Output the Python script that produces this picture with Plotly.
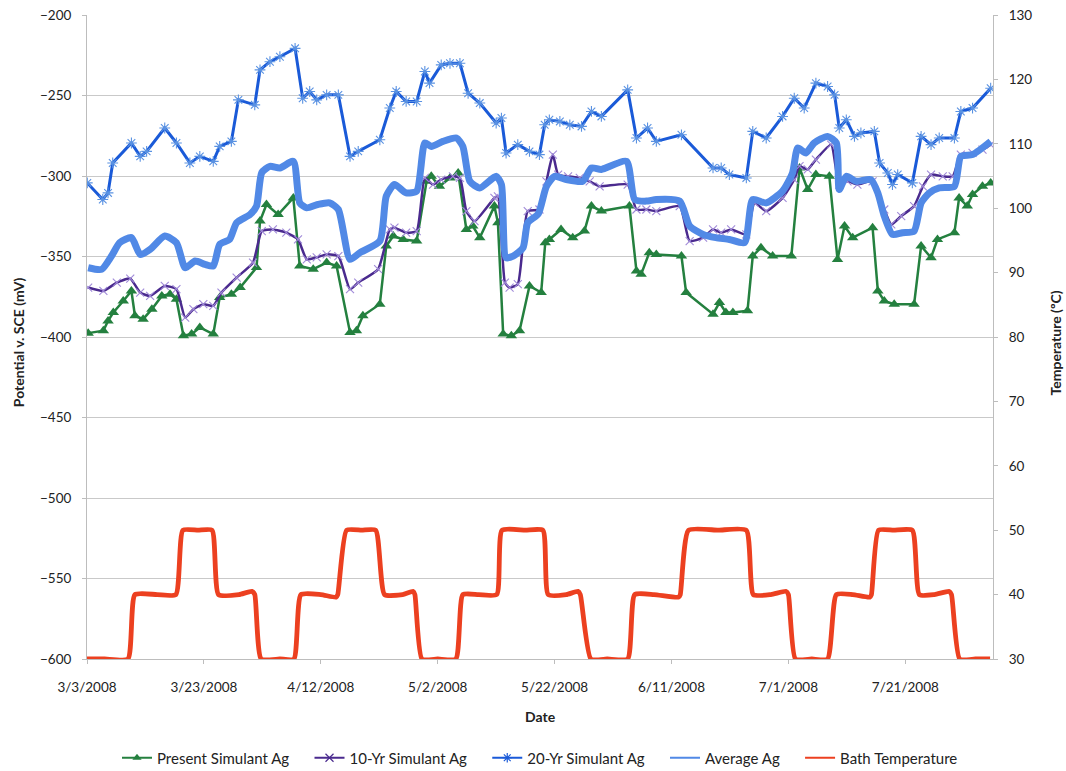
import plotly.graph_objects as go
import pandas as pd

BASE = pd.Timestamp("2008-03-03")

# ---- data (day offsets from 3/3/2008, values) ----
present_days = [0.2, 2.8, 3.6, 4.5, 6.2, 7.6, 8.2, 9.6, 11.1, 12.8, 14.2, 15.3, 16.5, 17.9, 19.3, 21.6,
                22.7, 24.7, 26.2, 29.0, 29.6, 30.7, 32.7, 35.3, 36.4, 38.7, 41.0, 42.7, 45.0, 46.1, 47.2,
                50.1, 51.2, 52.4, 54.1, 56.4, 58.1, 58.9, 60.3, 62.1, 63.5, 64.9, 66.0, 67.2, 69.7, 70.3,
                71.2, 72.6, 74.0, 75.7, 77.7, 78.4, 79.1, 81.1, 83.1, 85.1, 86.3, 88.0, 92.8, 94.0, 94.8,
                96.2, 97.4, 101.7, 102.5, 107.1, 108.2, 109.3, 110.5, 113.0, 113.9, 115.3, 117.3, 120.5,
                121.9, 123.3, 124.7, 127.0, 128.4, 129.6, 131.0, 134.4, 135.3, 136.4, 138.1, 141.5, 142.7,
                144.4, 145.5, 148.4, 149.2, 150.6, 151.5, 153.2, 154.6]
present_mv = [-397.6, -396.1, -390, -384.8, -377.6, -371.4, -386.8, -388.9, -382.7, -374.5, -373.4, -376.5,
              -399.2, -398.2, -394.1, -398.2, -375.5, -373.4, -369.3, -356.9, -328, -317.7, -323.9, -313.6,
              -355.9, -357.9, -353.8, -355.9, -397.2, -396.1, -386.8, -379.6, -343.5, -337.3, -339.4, -340.4,
              -303.3, -300.2, -306.4, -301.2, -298.1, -333.2, -331.1, -338.3, -318.7, -329, -398.2, -399.2,
              -396.1, -368.3, -372.4, -341.4, -339.4, -333.2, -338.3, -334.2, -318.7, -321.8, -318.7, -359,
              -361.1, -347.6, -348.7, -349.7, -372.4, -385.8, -378.6, -384.8, -384.8, -383.7, -349.7, -344.5,
              -349.7, -349.7, -295, -308.4, -299.1, -300.2, -351.8, -331.1, -338.3, -332.1, -371.4, -377.6,
              -379.6, -379.6, -343.5, -350.7, -339.4, -335.2, -313.6, -318.7, -311.5, -306.4, -304.3]

yr10_days = [0.2, 2.8, 5.1, 7.4, 9.1, 10.8, 13.3, 15.3, 16.8, 18.2, 19.9, 21.6, 23.0, 25.6, 28.4, 29.9,
             31.8, 34.1, 36.1, 37.6, 39.3, 41.0, 43.0, 45.0, 46.4, 49.8, 51.8, 52.6, 54.6, 56.4, 57.8,
             59.2, 60.6, 62.6, 63.8, 64.9, 66.3, 69.7, 70.3, 71.5, 72.3, 73.7, 75.4, 77.4, 78.6, 79.7,
             80.6, 82.3, 84.3, 86.0, 87.7, 92.5, 94.0, 95.7, 97.4, 101.4, 103.1, 105.4, 107.1, 108.5,
             110.2, 112.8, 114.2, 116.2, 119.0, 121.0, 121.9, 123.3, 124.7, 127.3, 128.7, 130.1, 131.8,
             134.4, 136.4, 137.6, 139.3, 141.5, 143.0, 144.4, 146.4, 148.1, 149.5, 151.5, 153.2, 154.6]
yr10_mv = [-369.3, -371.4, -366.2, -363.7, -372.4, -374.5, -368.3, -370.3, -387.9, -382.7, -379.6, -380.6,
           -372.4, -363.1, -353.8, -334.2, -333.2, -335.2, -339.4, -351.8, -350.5, -348.7, -349.7, -370.3,
           -366.2, -357.9, -333.2, -332.1, -335.2, -334.2, -301.2, -305.3, -302.2, -300.2, -301.2, -321.8,
           -328, -313.6, -312.6, -366.2, -369.3, -367.2, -321.8, -320.8, -303.3, -286.7, -299.1, -300.2,
           -301.2, -303.3, -306.4, -305.3, -320.8, -320.8, -321.8, -318.7, -340.4, -338.3, -333.2, -335.2,
           -333.2, -336.3, -316.7, -321.8, -313.6, -302.2, -293.9, -295.9, -289.8, -280.5, -305.3, -303.3,
           -305.3, -303.3, -320.8, -330.1, -324.9, -318.7, -306.4, -299.1, -300.2, -300.2, -286.7, -285.7,
           -283.6, -280.5]

yr20_days = [0.05, 2.7, 3.6, 4.4, 7.6, 9.1, 10.2, 13.3, 15.3, 17.6, 19.3, 21.6, 22.7, 24.7, 25.9, 28.7,
             29.6, 31.3, 33.0, 35.6, 36.9, 38.1, 39.3, 41.0, 43.0, 45.0, 46.4, 50.1, 51.8, 52.9, 54.6,
             56.4, 57.8, 58.6, 60.6, 62.1, 63.8, 65.2, 67.2, 70.0, 70.9, 71.7, 73.7, 75.7, 77.4, 78.3,
             79.1, 80.9, 82.6, 84.6, 86.3, 88.0, 92.5, 94.0, 95.9, 97.4, 101.7, 107.1, 108.5, 109.9,
             112.8, 113.9, 116.2, 119.0, 121.0, 122.7, 124.7, 126.7, 127.9, 128.7, 129.9, 131.3, 132.4,
             134.7, 135.6, 137.0, 137.8, 138.7, 141.2, 142.7, 144.4, 145.8, 148.4, 149.5, 151.5, 154.6]
yr20_mv = [-304.3, -314.6, -310.5, -291.9, -279.5, -287.8, -284.7, -270.2, -279.5, -291.9, -287.8, -290.9,
           -281.6, -278.5, -252.7, -255.8, -234.1, -229, -225.9, -220.7, -251.7, -247.5, -252.7, -249.6,
           -249.6, -287.8, -284.7, -277.5, -257.8, -247.5, -253.7, -253.7, -235.1, -242.3, -231, -230,
           -230, -248.6, -254.7, -267.1, -264, -285.7, -280.5, -284.7, -286.7, -268.2, -265.1, -266.1,
           -268.2, -269.2, -259.9, -263, -246.5, -276.4, -270.2, -278.5, -274.4, -295, -295, -299.1,
           -301.2, -272.3, -276.4, -263, -251.7, -257.8, -242.3, -244.4, -249.6, -270.2, -265.1, -275.4,
           -273.3, -272.3, -291.9, -298.1, -305.3, -299.1, -304.3, -275.4, -280.5, -276.4, -276.4, -259.9,
           -257.8, -245.5]

avg_days = [0.2, 2.5, 4.2, 5.6, 7.6, 9.1, 10.8, 13.3, 15.3, 16.8, 18.5, 20.2, 21.6, 22.7, 24.4, 25.6,
            27.9, 29.0, 29.9, 31.3, 33.0, 35.3, 36.4, 37.6, 39.5, 41.5, 43.0, 45.0, 46.7, 50.1, 51.2,
            52.6, 54.6, 56.4, 57.8, 58.9, 60.9, 63.2, 64.3, 65.5, 67.2, 70.0, 70.9, 71.7, 72.9, 74.6,
            75.4, 77.2, 78.6, 80.0, 82.0, 84.8, 86.3, 88.0, 92.3, 93.7, 95.7, 97.4, 101.4, 103.1, 105.4,
            107.6, 109.9, 112.5, 113.9, 116.2, 119.0, 120.7, 121.6, 123.0, 124.4, 126.7, 128.2, 128.7,
            129.9, 131.6, 134.1, 135.3, 136.4, 137.8, 139.5, 141.5, 142.7, 144.1, 145.8, 148.4, 149.5,
            151.5, 154.6]
avg_mv = [-357, -358, -349.7, -341.4, -338.3, -348.7, -345.6, -337.3, -341.4, -357, -352.8, -354.9, -355.9,
          -342.5, -339.4, -329, -323.9, -318.7, -297.9, -294, -295, -290.9, -316.7, -319.8, -317.7, -316.7,
          -320.8, -351.8, -347.6, -340.4, -312.5, -305.3, -310.5, -309.4, -279.5, -281.6, -278.5, -276.4,
          -281.6, -303.3, -307.4, -300.2, -305.3, -350.7, -349.7, -344.5, -329, -323.5, -306.4, -300.2,
          -302.2, -303.3, -295, -295.9, -290.9, -314.6, -315.6, -314.6, -315.6, -331.1, -336.3, -338.3,
          -339.4, -341.4, -314.6, -316.7, -309.4, -298.1, -282.6, -285.7, -279.5, -275.4, -279.5, -308.4,
          -300.2, -303.3, -302.2, -310.5, -324.9, -336.3, -335.2, -334.2, -316.7, -310.5, -307.4, -306.4,
          -287.8, -286.7, -278.5]

bath_days = [0, 3, 7.0, 8.2, 12, 15.2, 16.4, 19, 21.4, 22.5, 26, 28.2, 28.7, 29.8, 33, 35.4, 36.6, 40,
             42.6, 42.9, 44.4, 47, 49.4, 50.9, 54, 55.8, 56.1, 57.3, 60, 63.1, 64.3, 67, 70.1, 71.0, 75,
             78.0, 78.9, 82, 84.0, 84.4, 86.2, 89, 92.5, 93.7, 97, 101.2, 101.5, 102.9, 108, 112.8, 114.0,
             117, 119.6, 120.0, 121.2, 124, 126.7, 128.2, 131, 133.9, 134.2, 135.4, 138, 141.2, 142.4,
             145, 147.5, 147.9, 149.3, 152, 154.5]
bath_c = [30, 30, 30, 40, 40, 40, 50, 50, 50, 40, 40, 40.5, 40, 30, 30, 30, 40, 40, 39.6, 40, 50, 50, 50,
          40, 40, 40.5, 40, 30, 30, 30, 40, 40, 40, 50, 50, 50, 40, 40, 40.5, 40, 30, 30, 30, 40, 40,
          39.6, 40, 50, 50, 50, 40, 40, 40.5, 40, 30, 30, 30, 40, 40, 39.6, 40, 50, 50, 50, 40, 40, 40.5,
          40, 30, 30, 30]

series_names = ["Present Simulant Ag", "10-Yr Simulant Ag", "20-Yr Simulant Ag", "Average Ag", "Bath Temperature"]
GREEN, PURPLE, BLUE, AVG, RED = "#24803f", "#4a2a8e", "#1a5ad8", "#5189e6", "#ec4020"


def dates(days):
    return [BASE + pd.Timedelta(days=d) for d in days]


FONT = "Lato, 'Open Sans', sans-serif"
NB = "\u00a0" * 4  # spacing after legend entries

fig = go.Figure()

fig.add_trace(go.Scatter(
    x=dates(present_days), y=present_mv, name=series_names[0], mode="lines+markers", showlegend=False,
    line=dict(color=GREEN, width=2.5),
    marker=dict(symbol="triangle-up", size=10, color=GREEN)))

fig.add_trace(go.Scatter(
    x=dates(yr10_days), y=yr10_mv, name=series_names[1], mode="lines+markers", showlegend=False,
    line=dict(color=PURPLE, width=2.5, shape="spline", smoothing=0.5),
    marker=dict(symbol="x-thin-open", size=8, color="#a08ad8", line=dict(width=1.1, color="#a08ad8"))))

fig.add_trace(go.Scatter(
    x=dates(yr20_days), y=yr20_mv, name=series_names[2], mode="lines+markers", showlegend=False,
    line=dict(color=BLUE, width=3),
    marker=dict(symbol="asterisk-open", size=9, color="#5a92e2", line=dict(width=1.1, color="#5a92e2"))))

fig.add_trace(go.Scatter(
    x=dates(avg_days), y=avg_mv, name=series_names[3], mode="lines", showlegend=False,
    line=dict(color=AVG, width=7, shape="spline", smoothing=0.6)))

fig.add_trace(go.Scatter(
    x=dates(bath_days), y=bath_c, name=series_names[4], mode="lines", yaxis="y2", showlegend=False,
    line=dict(color=RED, width=4.8, shape="spline", smoothing=0.5)))

# legend-only entries with thin sample lines (as in the reference legend)
legend_styles = [
    dict(mode="lines+markers", line=dict(color=GREEN, width=2), marker=dict(symbol="triangle-up", size=8, color=GREEN)),
    dict(mode="lines+markers", line=dict(color=PURPLE, width=2), marker=dict(symbol="x-thin-open", size=8, line=dict(width=1.2, color="#7a5cc0"))),
    dict(mode="lines+markers", line=dict(color=BLUE, width=2), marker=dict(symbol="asterisk-open", size=8, line=dict(width=1.2, color="#3a7ae0"))),
    dict(mode="lines", line=dict(color=AVG, width=2)),
    dict(mode="lines", line=dict(color=RED, width=2)),
]
for i, (nm, st) in enumerate(zip(series_names, legend_styles)):
    label = nm + (NB if i < len(series_names) - 1 else "")
    fig.add_trace(go.Scatter(x=[None], y=[None], name=label, showlegend=True, hoverinfo="skip", **st))

fig.update_layout(
    width=1066, height=771,
    margin=dict(l=87, r=73, t=15, b=112, autoexpand=False),
    paper_bgcolor="white", plot_bgcolor="white",
    font=dict(family=FONT, size=13, color="#222222"),
    showlegend=True,
    legend=dict(orientation="h", x=0.5, xanchor="center", y=(659 - 758) / 644, yanchor="middle",
                font=dict(size=15, color="#222222"), itemwidth=30, traceorder="normal"),
    xaxis=dict(
        type="date", range=[BASE, BASE + pd.Timedelta(days=155)],
        tick0=BASE, dtick=20 * 86400000, tickformat="%-m/%-d/%Y",
        showgrid=False, showline=True, linecolor="#bdbdbd", linewidth=1,
        ticks="outside", ticklen=4, tickcolor="#bdbdbd",
        ticklabelstandoff=12, tickfont=dict(size=13.5), zeroline=False),
    yaxis=dict(
        range=[-600, -200], dtick=50, tick0=-600,
        showgrid=True, gridcolor="#c9c9c9", gridwidth=1,
        showline=True, linecolor="#bdbdbd", linewidth=1,
        ticks="outside", ticklen=4, tickcolor="#bdbdbd",
        ticklabelstandoff=8, tickfont=dict(size=13.5), zeroline=False),
    yaxis2=dict(
        range=[30, 130], dtick=10, tick0=30, overlaying="y", side="right",
        showgrid=False, showline=True, linecolor="#bdbdbd", linewidth=1,
        ticks="outside", ticklen=4, tickcolor="#bdbdbd",
        ticklabelstandoff=8, tickfont=dict(size=13.5), zeroline=False),
    annotations=[
        dict(text="<b>Date</b>", xref="paper", yref="paper", x=0.5, y=(659 - 717) / 644,
             xanchor="center", yanchor="middle", showarrow=False, font=dict(size=14)),
        dict(text="<b>Potential v. SCE (mV)</b>", xref="paper", yref="paper",
             x=(18 - 87) / 906, y=0.492, xanchor="center", yanchor="middle",
             textangle=-90, showarrow=False, font=dict(size=14)),
        dict(text="<b>Temperature (ºC)</b>", xref="paper", yref="paper",
             x=(1055 - 87) / 906, y=0.49, xanchor="center", yanchor="middle",
             textangle=-90, showarrow=False, font=dict(size=14)),
    ],
)

fig.write_html("out.html")
